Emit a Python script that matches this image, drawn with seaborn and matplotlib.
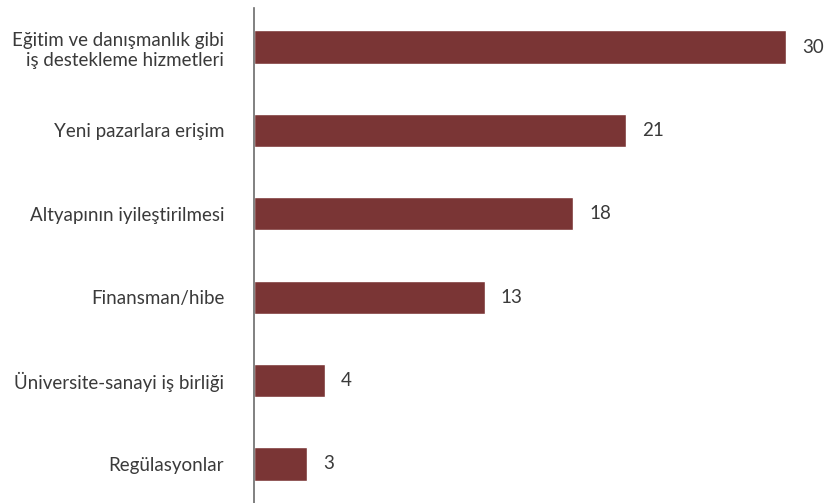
import matplotlib
matplotlib.use("Agg")
import matplotlib.pyplot as plt
import seaborn as sns
import pandas as pd

categories = [
    "Eğitim ve danışmanlık gibi\niş destekleme hizmetleri",
    "Yeni pazarlara erişim",
    "Altyapının iyileştirilmesi",
    "Finansman/hibe",
    "Üniversite-sanayi iş birliği",
    "Regülasyonlar",
]
values = [30, 21, 18, 13, 4, 3]

df = pd.DataFrame({"kategori": categories, "deger": values})

sns.set_theme(style="white")
plt.rcParams["font.family"] = ["Lato", "DejaVu Sans"]

bar_color = "#7a3535"
text_color = "#3a3a3a"

fig = plt.figure(figsize=(8.33, 5.03), dpi=100)
ax = fig.add_axes([254 / 833, 0.0, 1 - 254 / 833, 1 - 8 / 503])

sns.barplot(data=df, y="kategori", x="deger", orient="h", color=bar_color,
            width=0.40, saturation=1, ax=ax)

ax.set_xlim(0, 32.65)
ax.set_ylim(5.468, -0.468)
ax.set_xlabel("")
ax.set_ylabel("")
ax.set_xticks([])

for s in ["top", "right", "bottom"]:
    ax.spines[s].set_visible(False)
ax.spines["left"].set_color("#6b6b6b")
ax.spines["left"].set_linewidth(1.2)

ax.tick_params(axis="y", length=0, pad=21.5, labelsize=13.5, labelcolor=text_color)
for lbl in ax.get_yticklabels():
    lbl.set_horizontalalignment("right")
    lbl.set_multialignment("right")
    lbl.set_linespacing(1.25)

for container in ax.containers:
    ax.bar_label(container, labels=[str(v) for v in values], padding=11.5,
                 fontsize=13.5, color=text_color)

fig.savefig("out.png", dpi=100)
